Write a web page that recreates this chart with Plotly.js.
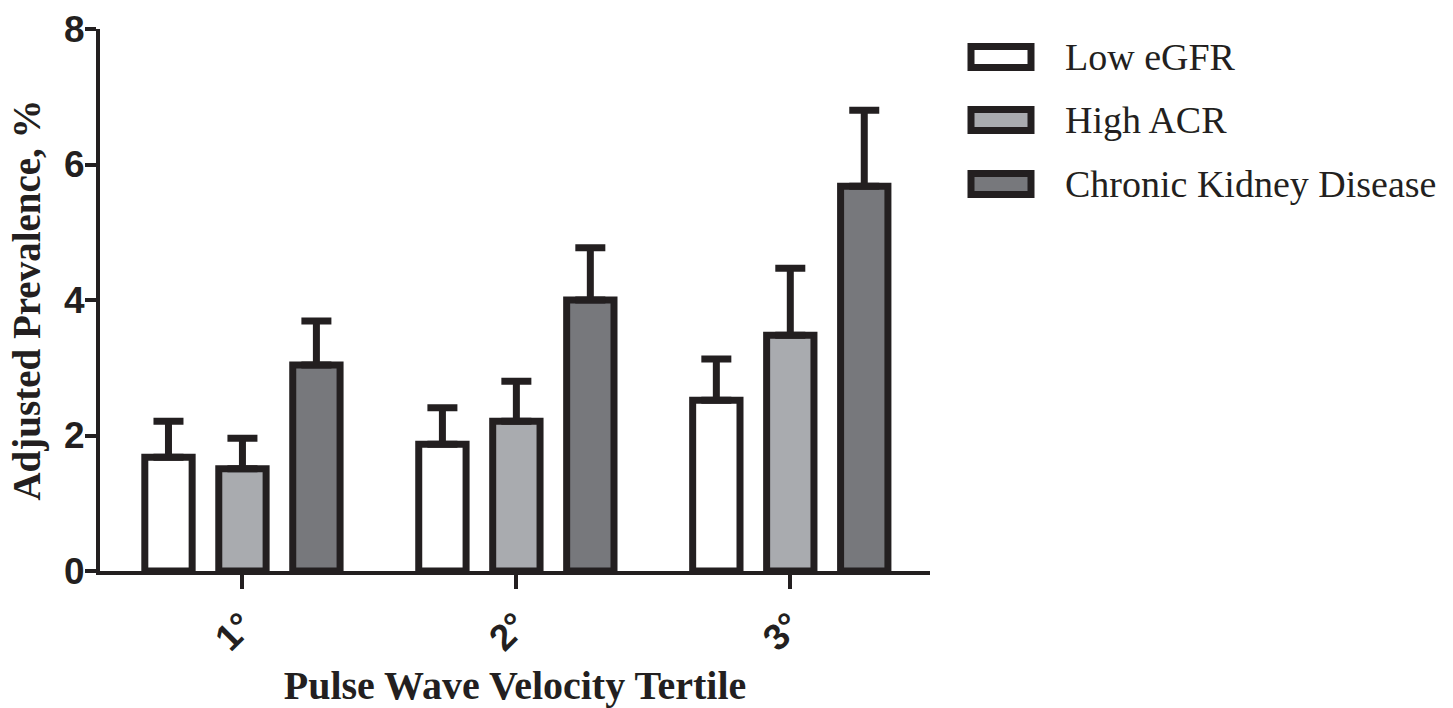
<!DOCTYPE html>
<html>
<head>
<meta charset="utf-8">
<script src="https://cdn.plot.ly/plotly-3.0.1.min.js"></script>
<style>html,body{margin:0;padding:0;background:#fff;}#chart{width:1453px;height:708px;}</style>
</head>
<body>
<div id="chart"></div>
<script>
const categories = ['1°', '2°', '3°'];
const seriesNames = ['Low eGFR', 'High ACR', 'Chronic Kidney Disease'];
const lowEGFR = [1.68, 1.87, 2.52];
const highACR = [1.51, 2.21, 3.48];
const ckd = [3.04, 4.00, 5.68];
const lowEGFRErr = [0.53, 0.54, 0.61];
const highACRErr = [0.45, 0.59, 0.99];
const ckdErr = [0.65, 0.77, 1.12];
const yTickVals = [0, 2, 4, 6, 8];
const yTickText = ['0', '2', '4', '6', '8'];
const xTitle = 'Pulse Wave Velocity Tertile';
const yTitle = 'Adjusted Prevalence, %';

const ink = '#231f20';
const fills = ['#ffffff', '#a9abaf', '#77787c'];
const values = [lowEGFR, highACR, ckd];
const errs = [lowEGFRErr, highACRErr, ckdErr];

const traces = values.map((v, i) => ({
  type: 'bar',
  name: seriesNames[i],
  x: categories,
  y: v,
  marker: {color: fills[i], line: {color: ink, width: 7}},
  error_y: {type: 'data', symmetric: false, array: errs[i], arrayminus: v.map(() => 0),
            color: ink, thickness: 7, width: 15},
  showlegend: false,
  hoverinfo: 'skip'
}));

// custom legend (paper coords)
const L = 100, R = 930, T = 29, B = 571;
const px = x => (x - L) / (R - L);
const py = y => (B - y) / (B - T);
const rowY = [57, 120, 184];
const shapes = [];
const annotations = [];
seriesNames.forEach((n, i) => {
  shapes.push({type: 'rect', xref: 'paper', yref: 'paper',
    x0: px(971), x1: px(1031), y0: py(rowY[i] + 10.5), y1: py(rowY[i] - 10.5),
    line: {color: ink, width: 7}, fillcolor: fills[i]});
  annotations.push({xref: 'paper', yref: 'paper', x: px(1063), y: py(rowY[i]),
    xanchor: 'left', yanchor: 'middle', showarrow: false, text: n,
    font: {family: 'Liberation Serif, Times New Roman, serif', size: 38, color: ink}});
});

const layout = {
  width: 1453, height: 708, autosize: false,
  paper_bgcolor: '#fff', plot_bgcolor: '#fff',
  margin: {l: L, r: 1453 - R, t: T, b: 708 - B},
  barmode: 'group', bargap: 0.19, bargroupgap: 0.36,
  showlegend: false,
  xaxis: {
    type: 'category', range: [-0.52, 2.51],
    showline: true, linewidth: 4, linecolor: ink,
    ticks: 'outside', ticklen: 14, tickwidth: 4, tickcolor: ink,
    tickangle: -45, showgrid: false, zeroline: false,
    tickfont: {family: 'Liberation Sans, Arial, sans-serif', size: 37, color: ink, weight: 'bold'},
    title: {text: xTitle, standoff: 14,
      font: {family: 'Liberation Serif, Times New Roman, serif', size: 40, color: ink, weight: 'bold'}}
  },
  yaxis: {
    range: [0, 8], tickvals: yTickVals, ticktext: yTickText,
    showline: true, linewidth: 4, linecolor: ink,
    ticks: 'outside', ticklen: 11, tickwidth: 4, tickcolor: ink,
    ticklabelstandoff: -7,
    showgrid: false, zeroline: false,
    tickfont: {family: 'Liberation Sans, Arial, sans-serif', size: 37, color: ink, weight: 'bold'},
    title: {text: yTitle, standoff: 12,
      font: {family: 'Liberation Serif, Times New Roman, serif', size: 39, color: ink, weight: 'bold'}}
  },
  shapes: shapes,
  annotations: annotations
};

Plotly.newPlot('chart', traces, layout, {displayModeBar: false, staticPlot: true});
</script>
</body>
</html>
